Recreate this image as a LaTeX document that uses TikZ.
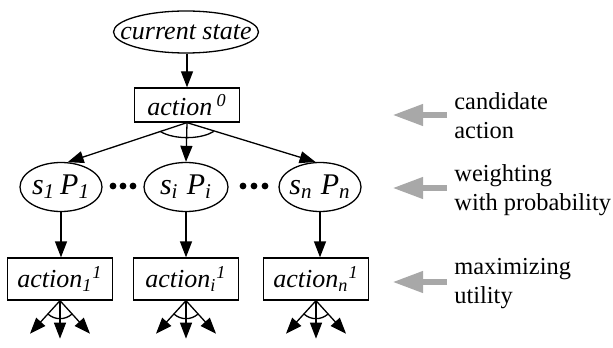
\documentclass[tikz,border=0pt]{standalone}
\usepackage{fontspec}
\setmainfont{Liberation Serif}
\usetikzlibrary{shapes.geometric,arrows.meta,calc}
\definecolor{arrowgrey}{HTML}{A8A8A8}
\newcommand{\zw}[1]{\makebox[0pt]{#1}}
\tikzset{
  ell/.style={draw,ellipse,inner sep=0pt,line width=0.65pt,font=\fontsize{13}{15}\selectfont\itshape},
  sp/.style={ell,minimum width=41pt,minimum height=24.5pt,font=\fontsize{15}{17}\selectfont\itshape},
  box/.style={draw,rectangle,inner sep=0pt,line width=0.65pt,minimum width=52.5pt,font=\fontsize{13}{15}\selectfont\itshape},
  conn/.style={line width=0.65pt,-{Triangle[length=8pt,width=6pt]}},
  plain/.style={line width=0.65pt},
  lbl/.style={anchor=west,align=left,inner sep=0pt,font=\fontsize{12.2}{14.5}\selectfont},
  greyarrow/.style={arrowgrey,line width=3.4pt,-{Triangle[length=15.5pt,width=10pt]}},
}
\begin{document}
\begin{tikzpicture}[x=0.5pt,y=-0.5pt]
\useasboundingbox (0,0) rectangle (613,347);

% nodes
\node[ell,minimum width=72.5pt,minimum height=21pt] (cs) at (186,32) {\zw{current state}};
\node[box,minimum height=17pt] (a0) at (187,105) {action\,\textsuperscript{0}};
\node[sp] (s1) at (61,187) {\zw{s\textsubscript{1}\,P\textsubscript{1}}};
\node[sp,minimum width=42pt] (si) at (186,187) {\zw{s\textsubscript{i}\;P\textsubscript{i}}};
\node[sp] (sn) at (320,187) {\zw{s\textsubscript{n}\;P\textsubscript{n}}};
\node[box,minimum height=21pt] (b1) at (60,279) {action\textsubscript{1}\textsuperscript{1}};
\node[box,minimum height=21pt] (bi) at (186,279) {action\textsubscript{i}\textsuperscript{1}};
\node[box,minimum height=21pt] (bn) at (316,279) {action\textsubscript{n}\textsuperscript{1}};

% dots
\foreach \x in {113,123,133,243,254,265} \fill (\x,186) circle (1.7pt);

% connectors
\draw[conn] (cs.south -| a0.north) -- (a0.north);
\draw[conn] (a0.south) -- (s1.75);
\draw[conn] (a0.south) -- (si.north);
\draw[conn] (a0.south) -- (sn.100);
\draw[plain] ([shift={(216:16.5pt and 7.5pt)}]a0.south) arc[start angle=216,end angle=324,x radius=16.5pt,y radius=7.5pt];

\draw[conn] (s1.south) -- (s1.south |- b1.north);
\draw[conn] (si.south) -- (si.south |- bi.north);
\draw[conn] (sn.south) -- (sn.south |- bn.north);

\foreach \b in {b1,bi,bn}{
  \coordinate (\b l) at ($(\b.south)+(-30,33)$);
  \coordinate (\b c) at ($(\b.south)+(0,38)$);
  \coordinate (\b r) at ($(\b.south)+(30,33)$);
  \draw[conn] (\b.south) -- (\b l);
  \draw[conn] (\b.south) -- (\b c);
  \draw[conn] (\b.south) -- (\b r);
  \draw[plain] ([shift={(228:9pt)}]\b.south) arc[start angle=228,end angle=312,radius=9pt];
}

% right side annotations
\coordinate (g1s) at (447,115); \coordinate (g1e) at (392,115);
\coordinate (g2s) at (447,188); \coordinate (g2e) at (392,188);
\coordinate (g3s) at (447,282); \coordinate (g3e) at (392,282);
\draw[greyarrow] (g1s) -- (g1e);
\draw[greyarrow] (g2s) -- (g2e);
\draw[greyarrow] (g3s) -- (g3e);
\node[lbl] (l1) at (454,116) {candidate\\action};
\node[lbl] (l2) at (454,190) {weighting\\with probability};
\node[lbl] (l3) at (454,284) {maximizing\\utility};
\end{tikzpicture}
\end{document}
